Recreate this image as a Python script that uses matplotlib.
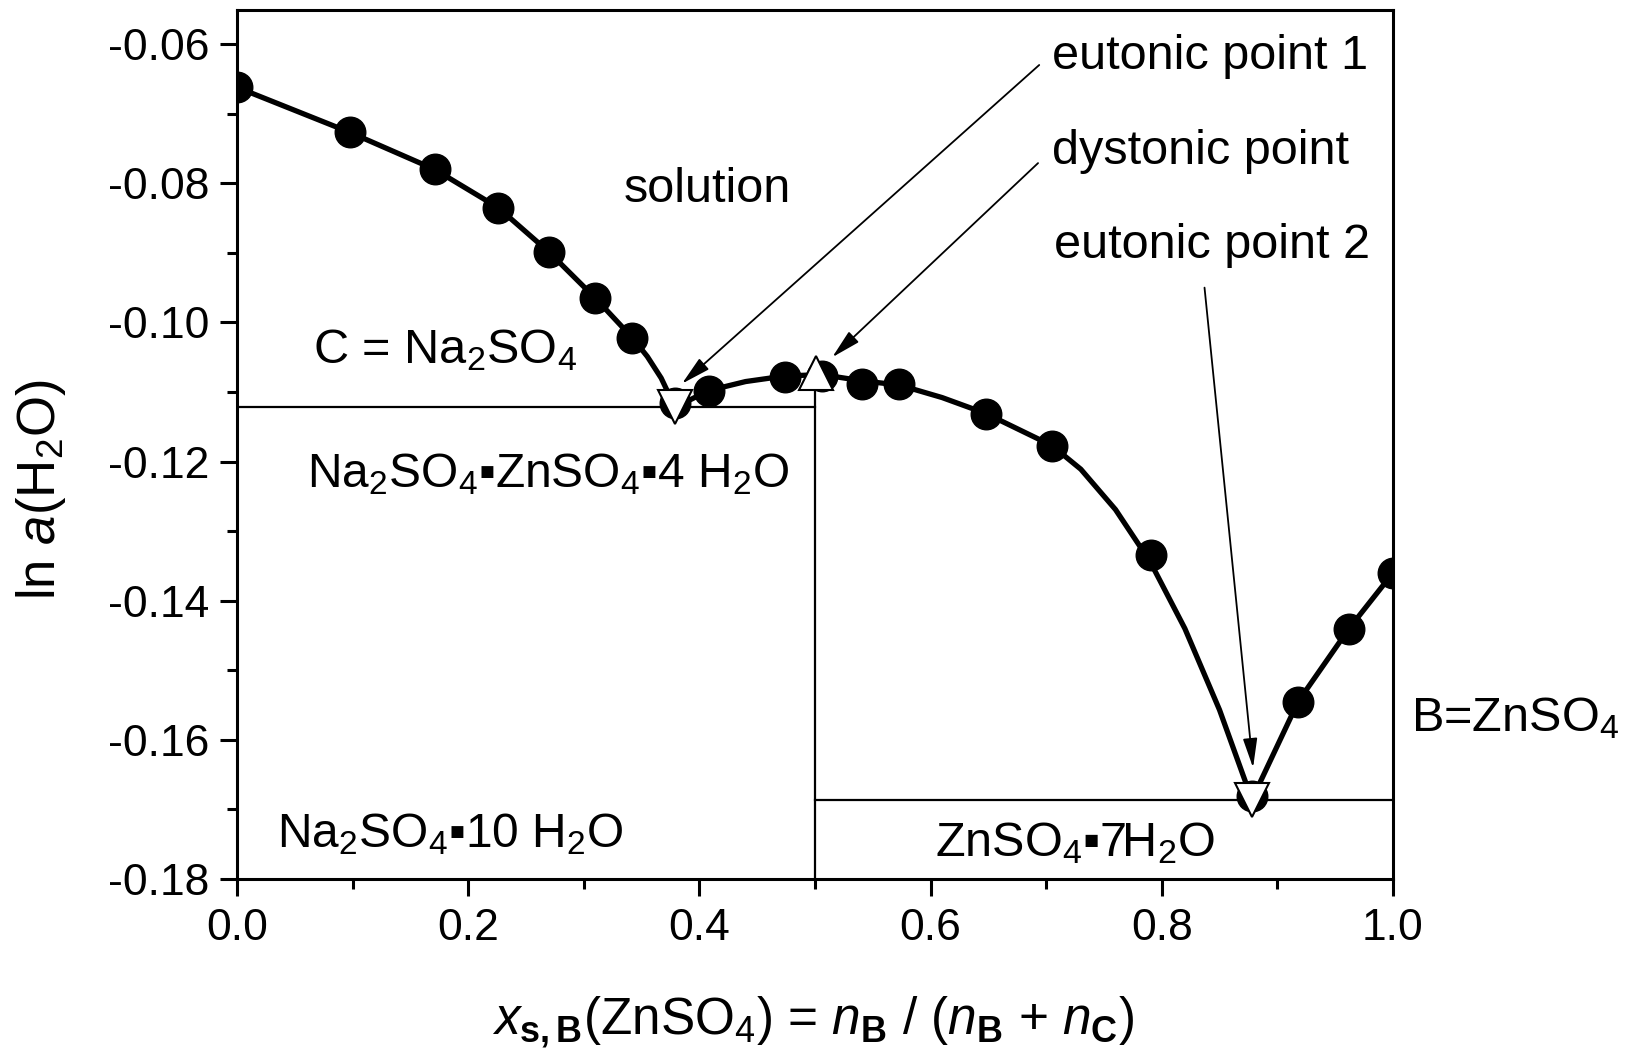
import matplotlib
matplotlib.use('Agg')
import matplotlib.pyplot as plt
from matplotlib.ticker import MultipleLocator, FormatStrFormatter

plt.rcParams['font.family'] = ['Liberation Sans', 'DejaVu Sans']
plt.rcParams['mathtext.fontset'] = 'custom'
plt.rcParams['mathtext.rm'] = 'Liberation Sans'
plt.rcParams['mathtext.it'] = 'Liberation Sans:italic'
plt.rcParams['mathtext.bf'] = 'Liberation Sans:bold'
plt.rcParams['axes.unicode_minus'] = False

# measured points (filled circles)
pts_x = [0.0, 0.098, 0.171, 0.226, 0.270, 0.310, 0.342, 0.379, 0.408, 0.474, 0.506,
         0.541, 0.573, 0.648, 0.705, 0.791, 0.878, 0.918, 0.962, 1.0]
pts_y = [-0.0662, -0.0727, -0.0780, -0.0835, -0.0899, -0.0965, -0.1022, -0.1116, -0.1098,
         -0.1078, -0.1077, -0.1088, -0.1088, -0.1131, -0.1177, -0.1335, -0.1680, -0.1545,
         -0.1440, -0.1360]

# model curve
curve_x = [0.0, 0.098, 0.171, 0.226, 0.270, 0.310, 0.342, 0.355, 0.367, 0.379, 0.408, 0.440,
           0.474, 0.506, 0.541, 0.573, 0.610, 0.648, 0.705, 0.730, 0.760, 0.790, 0.820,
           0.850, 0.878, 0.918, 0.962, 1.0]
curve_y = [-0.0662, -0.0727, -0.0780, -0.0835, -0.0899, -0.0965, -0.1022, -0.1049, -0.1080,
           -0.1122, -0.1098, -0.1085, -0.1077, -0.1075, -0.1084, -0.1090, -0.1108, -0.1131,
           -0.1177, -0.1211, -0.1269, -0.1344, -0.1440, -0.1557, -0.1686, -0.1545, -0.1440,
           -0.1360]

# invariant points
eut_x = [0.379, 0.878]
eut_y = [-0.1122, -0.1686]
dys_x = [0.501]
dys_y = [-0.1073]

# phase boundaries
x_dys = 0.5
y_eut1 = -0.1122
y_eut2 = -0.1686

fig = plt.figure(figsize=(16.25, 10.57), dpi=100)
ax = fig.add_axes([0.1458, 0.1684, 0.7114, 0.8221])

ax.plot([0, x_dys], [y_eut1, y_eut1], color='black', lw=1.6, zorder=1)
ax.plot([x_dys, x_dys], [dys_y[0], -0.18], color='black', lw=1.6, zorder=1)
ax.plot([x_dys, 1.0], [y_eut2, y_eut2], color='black', lw=1.6, zorder=1)

ax.plot(curve_x, curve_y, color='black', lw=3.8, zorder=2)
ax.plot(pts_x, pts_y, 'o', color='black', ms=22, zorder=3)
ax.plot(eut_x, eut_y, 'v', mfc='white', mec='black', mew=1.5, ms=24, zorder=4)
ax.plot(dys_x, dys_y, '^', mfc='white', mec='black', mew=1.5, ms=24, zorder=4)

ax.set_xlim(0, 1.0)
ax.set_ylim(-0.18, -0.0551)
ax.xaxis.set_major_locator(MultipleLocator(0.2))
ax.xaxis.set_minor_locator(MultipleLocator(0.1))
ax.yaxis.set_major_locator(MultipleLocator(0.02))
ax.yaxis.set_minor_locator(MultipleLocator(0.01))
ax.xaxis.set_major_formatter(FormatStrFormatter('%.1f'))
ax.yaxis.set_major_formatter(FormatStrFormatter('%.2f'))

for s in ax.spines.values():
    s.set_linewidth(2.2)
ax.tick_params(which='major', direction='out', length=12, width=2.2, labelsize=32)
ax.tick_params(which='minor', direction='out', length=7, width=2.2)
ax.tick_params(axis='x', which='both', pad=9)
ax.tick_params(axis='y', which='both', pad=8)

ax.set_xlabel(r'$x_{\mathbf{s,B}}$(ZnSO$_4$) = $n_{\mathbf{B}}$ / ($n_{\mathbf{B}}$ + $n_{\mathbf{C}}$)',
              fontsize=37)
ax.xaxis.set_label_coords(0.4985, -0.132)
ax.set_ylabel(r'ln $a$(H$_2$O)', fontsize=38)
ax.yaxis.set_label_coords(-0.146, 0.448)

fs = 35
dot = '▪'
ax.text(0.407, -0.0827, 'solution', fontsize=fs, ha='center', va='baseline')
ax.text(0.066, -0.1059, r'C = Na$_2$SO$_4$', fontsize=fs, va='baseline')
ax.text(0.061, -0.1237, r'Na$_2$SO$_4$' + dot + r'ZnSO$_4$' + dot + r'4 H$_2$O', fontsize=34.5, va='baseline')
ax.text(0.035, -0.1755, r'Na$_2$SO$_4$' + dot + r'10 H$_2$O', fontsize=34.5, va='baseline')
ax.text(0.604, -0.1767, r'ZnSO$_4$' + dot + r'7H$_2$O', fontsize=fs, va='baseline')
ax.text(1.016, -0.1588, r'B=ZnSO$_4$', fontsize=fs, va='baseline', clip_on=False)

arrow = dict(arrowstyle='-|>,head_length=0.9,head_width=0.22', color='black', lw=1.3,
             mutation_scale=20, shrinkA=0, shrinkB=0)
ax.annotate('', xy=(0.385, -0.1088), xytext=(0.694, -0.0630), arrowprops=arrow)
ax.annotate('', xy=(0.515, -0.1050), xytext=(0.693, -0.0771), arrowprops=arrow)
ax.annotate('', xy=(0.879, -0.1640), xytext=(0.837, -0.0950), arrowprops=arrow)
ax.text(0.705, -0.0636, 'eutonic point 1', fontsize=fs, va='baseline')
ax.text(0.705, -0.0773, 'dystonic point', fontsize=fs, va='baseline')
ax.text(0.707, -0.0908, 'eutonic point 2', fontsize=fs, va='baseline')

fig.savefig('out.png', dpi=100)
